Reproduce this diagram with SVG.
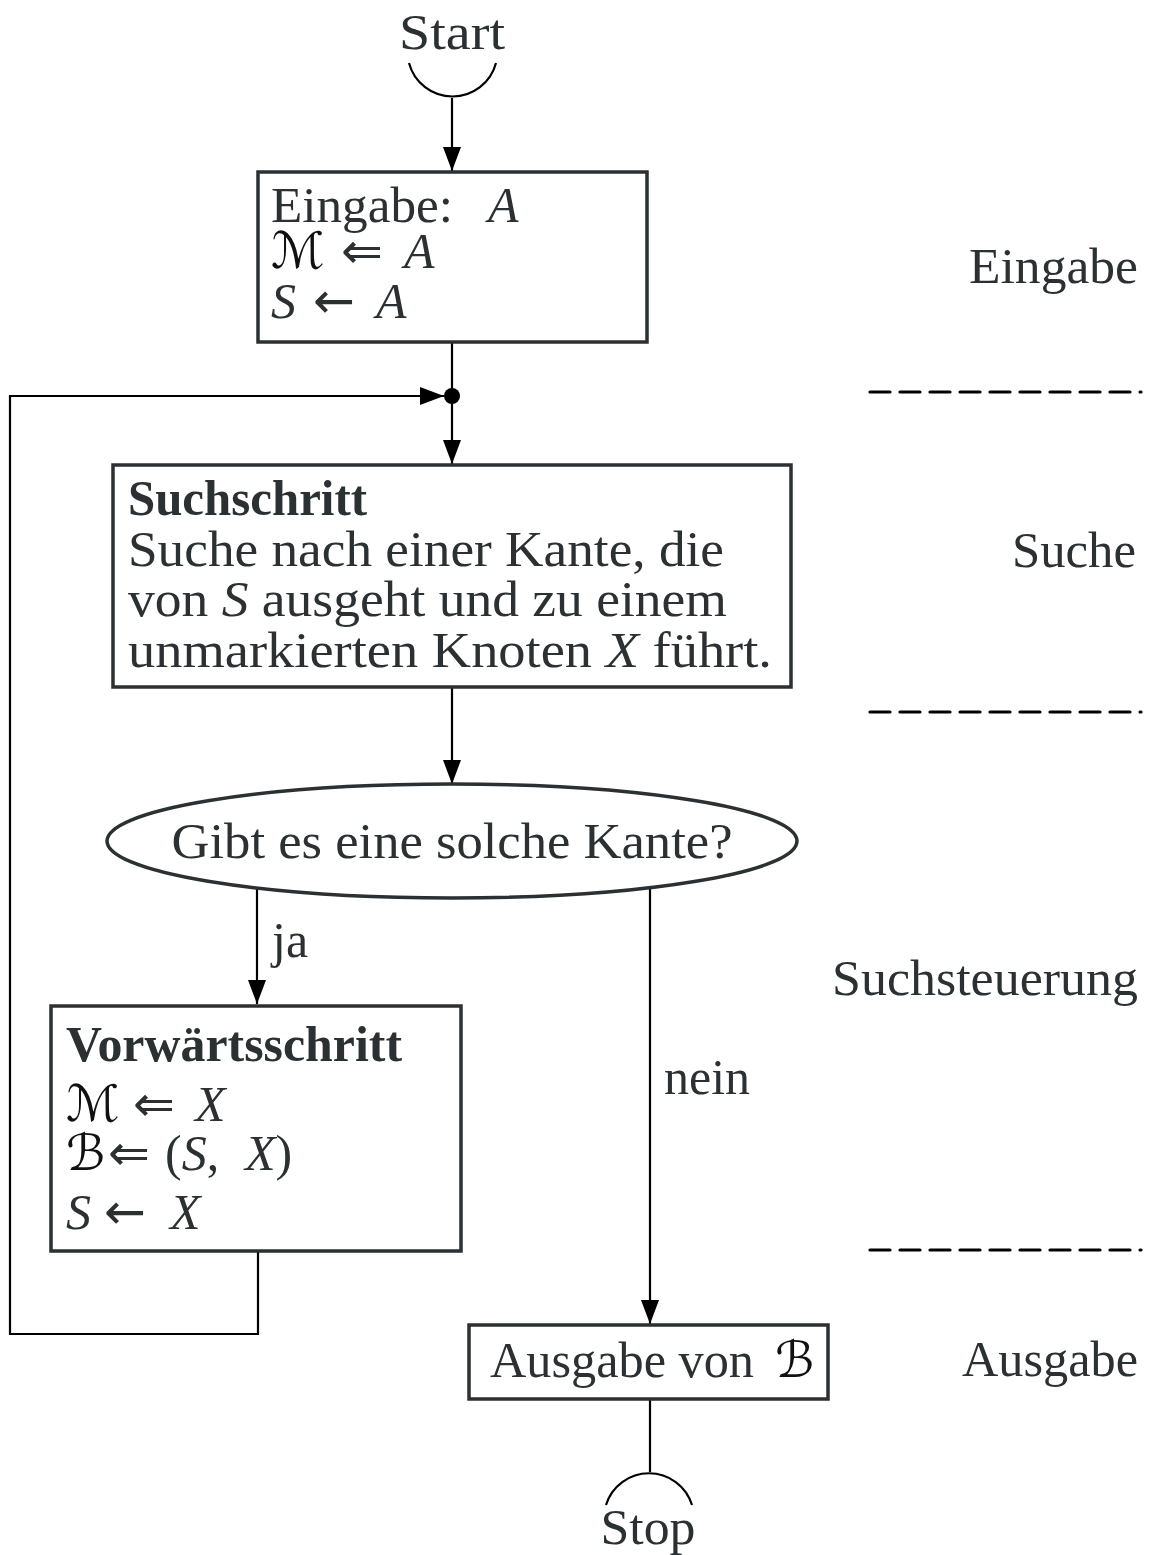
<svg xmlns="http://www.w3.org/2000/svg" width="1151" height="1555" viewBox="0 0 1151 1555">
  <style>
    text { font-family: "Liberation Serif", "DejaVu Serif", serif; font-size: 50px; fill: #2b3133; }
    .b { font-weight: bold; }
    .i { font-style: italic; }
    .cal { font-family: "DejaVu Sans", "Noto Sans", sans-serif; font-style: normal; fill: #111; }
    .sym { font-family: "DejaVu Sans", sans-serif; font-size: 50px; }
    .box { fill: #fff; stroke: #2b3133; stroke-width: 3.5; }
    .wire { fill: none; stroke: #000; stroke-width: 2.2; }
    .arr { marker-end: url(#head); }
    .dash { stroke: #000; stroke-width: 3.2; stroke-dasharray: 20 10; stroke-linecap: round; fill: none; }
  </style>
  <defs>
    <marker id="head" markerUnits="userSpaceOnUse" markerWidth="24" markerHeight="18" viewBox="0 0 24 18" refX="24" refY="9" orient="auto">
      <path d="M0,0 L24,9 L0,18 Z" fill="#000"/>
    </marker>
  </defs>

  <!-- connectors -->
  <g id="connectors">
    <line class="wire arr" x1="452" y1="98" x2="452" y2="171"/>
    <line class="wire" x1="452" y1="342" x2="452" y2="396"/>
    <line class="wire arr" x1="452" y1="396" x2="452" y2="464"/>
    <line class="wire arr" x1="452" y1="687" x2="452" y2="784"/>
    <line class="wire arr" x1="257" y1="888" x2="257" y2="1004"/>
    <line class="wire arr" x1="650" y1="887" x2="650" y2="1324"/>
    <line class="wire" x1="650" y1="1399" x2="650" y2="1472"/>
    <polyline class="wire arr" points="258,1252 258,1334 10,1334 10,396 444,396"/>
    <circle cx="452" cy="396" r="8" fill="#000"/>
    <text x="272" y="957">ja</text>
    <text x="664" y="1094">nein</text>
  </g>

  <!-- start terminal -->
  <g id="start">
    <path class="wire" d="M409,63 A45,45 0 0 0 496,63"/>
    <text x="452" y="49" text-anchor="middle" textLength="106" lengthAdjust="spacingAndGlyphs">Start</text>
  </g>

  <!-- input box -->
  <g id="eingabe">
    <rect class="box" x="258" y="172" width="389" height="170"/>
    <text x="271" y="222"><tspan textLength="182" lengthAdjust="spacingAndGlyphs">Eingabe:</tspan><tspan class="i" x="488">A</tspan></text>
    <text x="271" y="268"><tspan class="cal">ℳ</tspan><tspan class="sym" x="341">⇐</tspan><tspan class="i" x="404">A</tspan></text>
    <text x="271" y="318"><tspan class="i">S</tspan><tspan class="sym" x="313">←</tspan><tspan class="i" x="376">A</tspan></text>
  </g>

  <!-- search step -->
  <g id="suchschritt">
    <rect class="box" x="113" y="465" width="678" height="222"/>
    <text class="b" x="128" y="515" textLength="239" lengthAdjust="spacingAndGlyphs">Suchschritt</text>
    <text x="128" y="566" textLength="596" lengthAdjust="spacingAndGlyphs">Suche nach einer Kante, die</text>
    <text x="128" y="616" textLength="599" lengthAdjust="spacingAndGlyphs">von <tspan class="i">S</tspan> ausgeht und zu einem</text>
    <text x="128" y="667" textLength="644" lengthAdjust="spacingAndGlyphs">unmarkierten Knoten <tspan class="i">X</tspan> führt.</text>
  </g>

  <!-- decision -->
  <g id="entscheidung">
    <ellipse class="box" cx="452" cy="841" rx="345" ry="57"/>
    <text x="452" y="858" text-anchor="middle" textLength="561" lengthAdjust="spacingAndGlyphs">Gibt es eine solche Kante?</text>
  </g>

  <!-- forward step -->
  <g id="vorwaertsschritt">
    <rect class="box" x="51" y="1006" width="410" height="245"/>
    <text class="b" x="66" y="1061" textLength="336" lengthAdjust="spacingAndGlyphs">Vorwärtsschritt</text>
    <text x="66" y="1121"><tspan class="cal">ℳ</tspan><tspan class="sym" x="133">⇐</tspan><tspan class="i" x="195">X</tspan></text>
    <text x="66" y="1170"><tspan class="cal">ℬ</tspan><tspan class="sym" x="108">⇐</tspan><tspan x="165">(</tspan><tspan class="i">S</tspan>,<tspan class="i" x="245">X</tspan><tspan>)</tspan></text>
    <text x="66" y="1229"><tspan class="i">S</tspan><tspan class="sym" x="104">←</tspan><tspan class="i" x="170">X</tspan></text>
  </g>

  <!-- output box -->
  <g id="ausgabe">
    <rect class="box" x="469" y="1325" width="359" height="74"/>
    <text x="490" y="1377"><tspan textLength="264" lengthAdjust="spacingAndGlyphs">Ausgabe von</tspan><tspan class="cal" x="775">ℬ</tspan></text>
  </g>

  <!-- stop terminal -->
  <g id="stop">
    <path class="wire" d="M606,1505 A45,45 0 0 1 692,1505"/>
    <text x="648" y="1544" text-anchor="middle" textLength="95" lengthAdjust="spacingAndGlyphs">Stop</text>
  </g>

  <!-- phase labels and separators -->
  <g id="phasen">
    <text x="1138" y="283" text-anchor="end" textLength="169" lengthAdjust="spacingAndGlyphs">Eingabe</text>
    <text x="1136" y="567" text-anchor="end" textLength="124" lengthAdjust="spacingAndGlyphs">Suche</text>
    <text x="1138" y="995" text-anchor="end" textLength="306" lengthAdjust="spacingAndGlyphs">Suchsteuerung</text>
    <text x="1138" y="1376" text-anchor="end" textLength="176" lengthAdjust="spacingAndGlyphs">Ausgabe</text>
    <line class="dash" x1="870" y1="392" x2="1141" y2="392"/>
    <line class="dash" x1="870" y1="712" x2="1141" y2="712"/>
    <line class="dash" x1="870" y1="1250" x2="1141" y2="1250"/>
  </g>
</svg>
